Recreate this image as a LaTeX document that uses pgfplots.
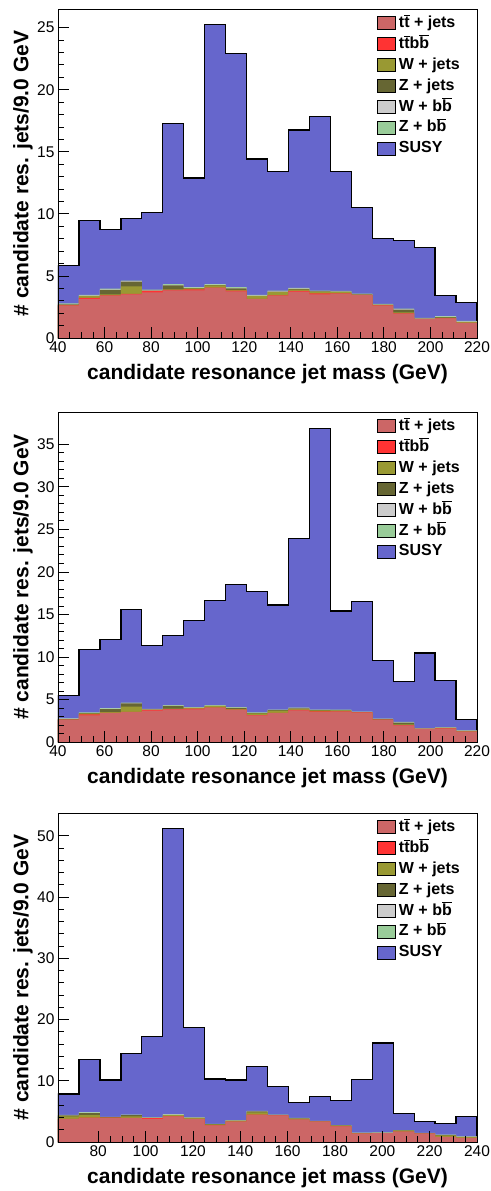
\documentclass[border=0pt]{standalone}
\usepackage{pgfplots}
\pgfplotsset{compat=1.18}
\usepackage{pgfplotstable}
\usepackage{fontspec}
\setmainfont{Liberation Sans}

\definecolor{cTT}{RGB}{204,102,102}
\definecolor{cTTBB}{RGB}{255,51,51}
\definecolor{cWJ}{RGB}{153,153,51}
\definecolor{cZJ}{RGB}{102,102,51}
\definecolor{cWBB}{RGB}{204,204,204}
\definecolor{cZBB}{RGB}{153,204,153}
\definecolor{cSUSY}{RGB}{102,102,204}

\newcommand{\ob}[1]{\ensuremath{\overline{\mbox{#1}}}}

% cumulative stack tops, bin left edges (last row closes the last bin)
\pgfplotstableread{
x tt ttbb wj zj wbb zbb s1 s2
40 2.60 2.62 2.66 2.70 2.74 2.79 5.83 5.49
49 3.14 3.24 3.38 3.40 3.43 3.47 9.45 10.90
58 3.41 3.43 3.52 3.88 3.92 3.97 8.73 12.08
67 3.52 3.55 4.16 4.54 4.58 4.63 9.61 15.54
76 3.68 3.79 3.80 3.82 3.85 3.89 10.12 11.38
85 3.84 3.87 3.92 4.24 4.28 4.33 17.29 12.55
94 3.84 3.92 4.00 4.02 4.05 4.09 12.89 14.28
103 4.03 4.05 4.24 4.26 4.29 4.33 25.27 16.63
112 3.76 3.82 3.86 4.00 4.04 4.09 22.90 18.52
121 3.14 3.16 3.38 3.40 3.43 3.47 14.42 17.73
130 3.41 3.43 3.70 3.74 3.78 3.82 13.40 16.12
139 3.73 3.79 3.90 3.96 4.00 4.04 16.76 23.93
148 3.52 3.60 3.73 3.75 3.78 3.82 17.83 36.88
157 3.57 3.59 3.71 3.73 3.76 3.80 13.40 15.42
166 3.46 3.48 3.50 3.51 3.54 3.58 10.50 16.56
175 2.60 2.62 2.66 2.68 2.71 2.75 8.03 9.57
184 1.96 1.98 2.06 2.28 2.32 2.37 7.87 7.14
193 1.53 1.54 1.55 1.56 1.59 1.63 7.30 10.47
202 1.58 1.59 1.64 1.69 1.72 1.76 3.44 7.22
211 1.21 1.22 1.28 1.30 1.33 1.37 2.87 2.67
220 1.21 1.22 1.28 1.30 1.33 1.37 2.87 2.67
}\bgA

\pgfplotstableread{
x tt ttbb wj zj wbb zbb s3
63.00 3.75 3.77 4.18 4.34 4.37 4.41 7.83
71.85 3.91 4.00 4.40 4.72 4.80 4.88 13.42
80.70 3.91 4.00 4.03 4.05 4.08 4.12 10.11
89.55 3.91 3.93 4.18 4.40 4.43 4.47 14.46
98.40 3.75 3.91 3.93 3.95 3.98 4.02 17.17
107.25 4.18 4.20 4.40 4.45 4.50 4.55 51.14
116.10 3.75 3.77 3.92 3.94 3.97 4.01 18.70
124.95 2.71 2.73 2.87 2.90 2.93 2.97 10.27
133.80 3.31 3.33 3.46 3.50 3.54 3.58 10.11
142.65 4.45 4.47 4.83 4.99 5.05 5.10 12.28
151.50 4.34 4.36 4.39 4.41 4.44 4.48 9.08
160.35 3.64 3.66 3.80 3.85 3.88 3.92 6.41
169.20 3.31 3.33 3.36 3.38 3.41 3.45 7.39
178.05 2.54 2.56 2.66 2.70 2.73 2.77 6.74
186.90 1.35 1.37 1.44 1.47 1.50 1.54 10.16
195.75 1.44 1.46 1.48 1.50 1.53 1.57 16.14
204.60 1.68 1.70 1.85 1.89 1.92 1.96 4.67
213.45 1.35 1.37 1.40 1.42 1.45 1.49 3.32
222.30 0.81 0.83 1.08 1.13 1.16 1.20 3.04
231.15 0.65 0.67 0.80 0.85 0.88 0.92 4.13
240.00 0.65 0.67 0.80 0.85 0.88 0.92 4.13
}\bgC

% one stacked histogram, drawn top layer first
\newcommand{\stackplots}[2]{%
  \addplot[const plot, fill=cSUSY, draw=black, line width=1.3pt] table[x=x, y=#2] {#1} \closedcycle;
  \addlegendentry{SUSY}
  \addplot[const plot, fill=cZBB, draw=none] table[x=x, y=zbb] {#1} \closedcycle;
  \addlegendentry{Z + b\ob{b}}
  \addplot[const plot, fill=cWBB, draw=none] table[x=x, y=wbb] {#1} \closedcycle;
  \addlegendentry{W + b\ob{b}}
  \addplot[const plot, fill=cZJ, draw=none] table[x=x, y=zj] {#1} \closedcycle;
  \addlegendentry{Z + jets}
  \addplot[const plot, fill=cWJ, draw=none] table[x=x, y=wj] {#1} \closedcycle;
  \addlegendentry{W + jets}
  \addplot[const plot, fill=cTTBB, draw=none] table[x=x, y=ttbb] {#1} \closedcycle;
  \addlegendentry{t\ob{t}b\ob{b}}
  \addplot[const plot, fill=cTT, draw=none] table[x=x, y=tt] {#1} \closedcycle;
  \addlegendentry{t\ob{t} + jets}
}

\pgfplotsset{
  rootstyle/.style={
    scale only axis,
    width=419pt,
    anchor=south west,
    axis on top,
    ymin=0,
    axis line style={line width=0.9pt},
    xtick pos=lower, ytick pos=left,
    tick align=inside,
    major tick length=11pt, minor tick length=6pt,
    tick style={black, line width=0.8pt},
    minor x tick num=3,
    minor y tick num=4,
    /pgf/number format/assume math mode=true,
    tick label style={font=\fontsize{15.5}{17}\selectfont},
    label style={font=\bfseries\fontsize{21}{25}\selectfont},
    xlabel={candidate resonance jet mass (GeV)},
    ylabel={\# candidate res. jets/9.0 GeV},
    xlabel style={at={(axis description cs:0.5,-0.11)}, anchor=center},
    ylabel style={at={(axis description cs:-0.0835,0.5)}, anchor=center},
    reverse legend,
    legend cell align=left,
    legend image code/.code={\draw[#1, line width=0.8pt] (0pt,-6.5pt) rectangle (18pt,6.5pt);},
    legend style={at={(axis description cs:0.754,0.99)}, anchor=north west,
      draw=none, fill=none, font=\bfseries\fontsize{16}{18}\selectfont,
      row sep=3.4pt, column sep=1.5pt,
      nodes={inner sep=1.5pt, text height=11.5pt, text depth=3pt}},
  }
}

\begin{document}
\begin{tikzpicture}[x=1pt, y=1pt]
\useasboundingbox (0,0) rectangle (490,-1191);

\begin{axis}[rootstyle, at={(58pt,-338pt)}, height=329pt,
  xmin=40, xmax=220, ymax=26.5, xtick={40,60,...,220}, ytick={0,5,...,25}]
\stackplots{\bgA}{s1}
\end{axis}

\begin{axis}[rootstyle, at={(58pt,-742pt)}, height=330pt,
  xmin=40, xmax=220, ymax=38.8, xtick={40,60,...,220}, ytick={0,5,...,35}]
\stackplots{\bgA}{s2}
\end{axis}

\begin{axis}[rootstyle, at={(58pt,-1142pt)}, height=329pt,
  xmin=63, xmax=240, ymax=53.7, xtick={80,100,...,240}, ytick={0,10,...,50}]
\stackplots{\bgC}{s3}
\end{axis}
\end{tikzpicture}
\end{document}
